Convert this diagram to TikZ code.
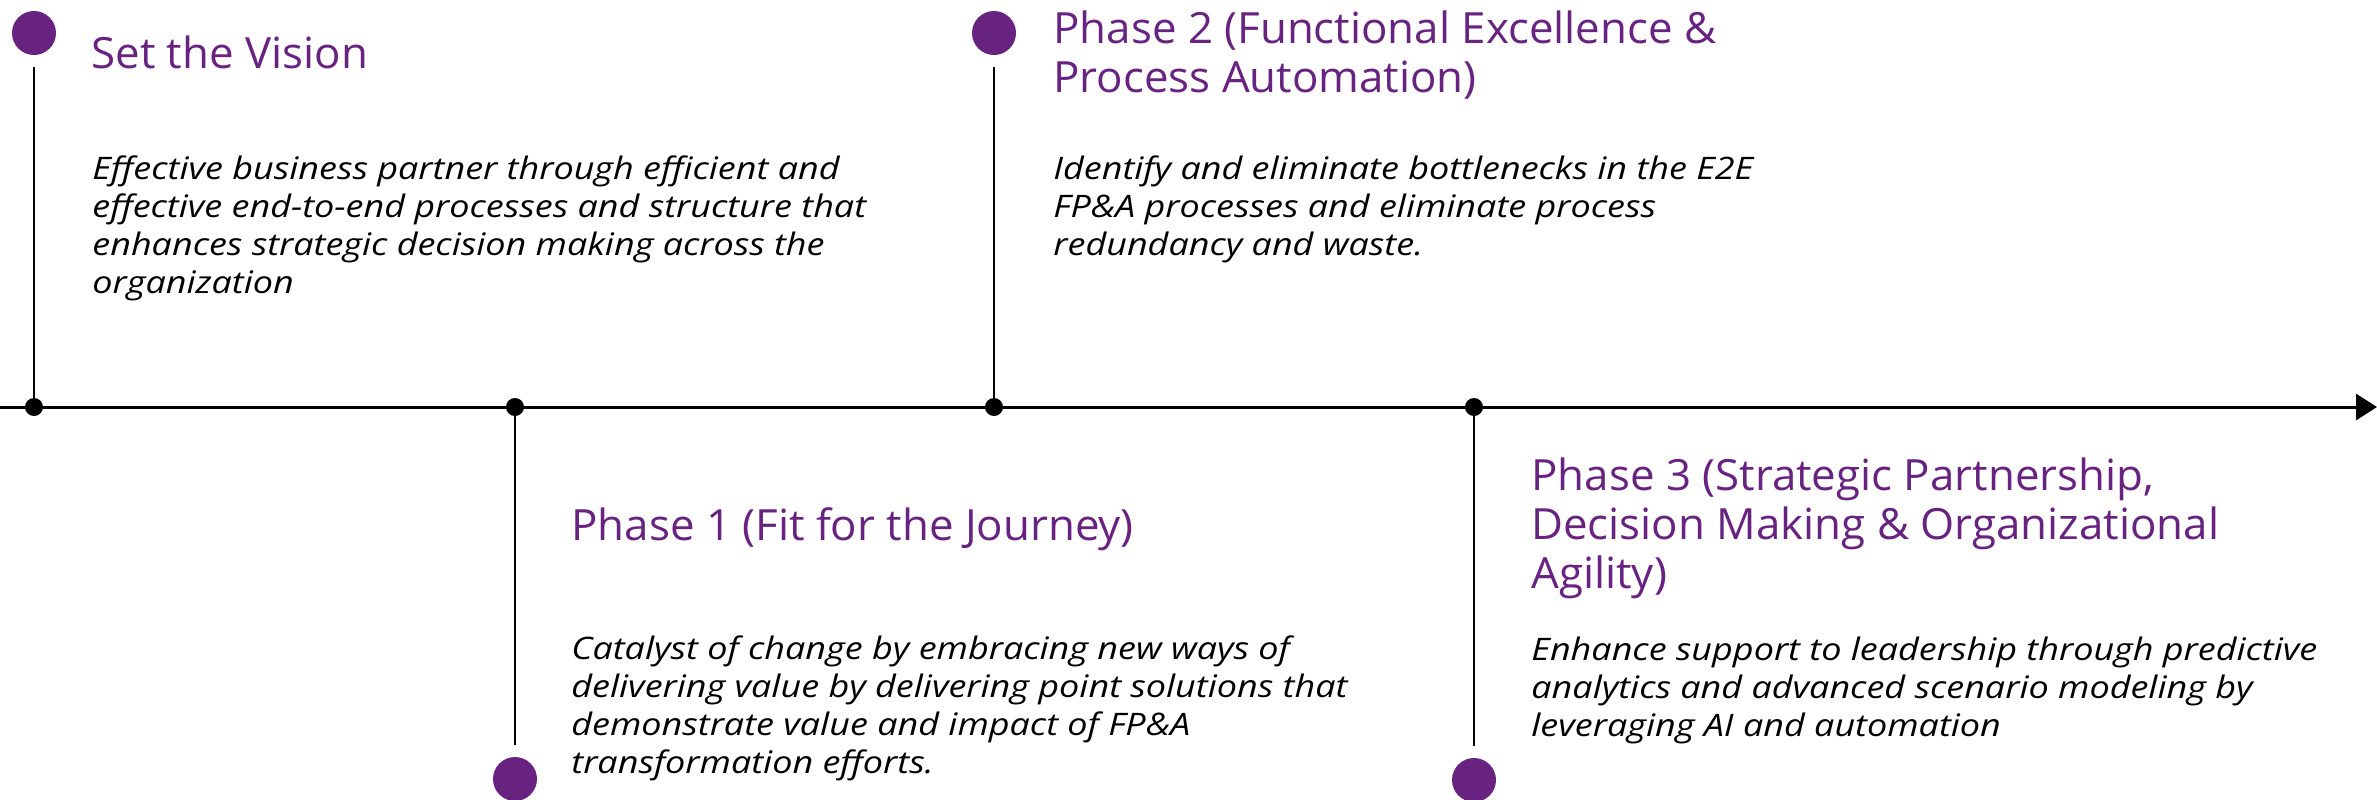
\documentclass[tikz,border=0pt]{standalone}
\usepackage{fontspec}
\setmainfont{Open Sans}
\newfontfamily\headfont[FakeStretch=1.02]{Open Sans}
\newfontfamily\descfont[FakeStretch=1.16]{Open Sans}
\usetikzlibrary{arrows.meta}
\definecolor{phasepurple}{RGB}{104,35,128}

\begin{document}
\begin{tikzpicture}[x=0.5pt,y=-0.5pt]
    \tikzstyle{milestone} = [circle, fill=phasepurple, inner sep=0pt,
        minimum size=22pt, outer sep=6pt]
    \tikzstyle{tick} = [circle, fill=black, inner sep=0pt, minimum size=9pt]
    \tikzstyle{stem} = [draw, line width=1.2pt]
    % base anchor sits on the last line of a text block
    \tikzstyle{title} = [anchor=base west, inner sep=0pt, align=left,
        text=phasepurple, font=\headfont\fontsize{21.5}{24.5}\selectfont]
    \tikzstyle{desc} = [anchor=base west, inner sep=0pt, align=left,
        font=\descfont\fontsize{15.5}{19}\selectfont\itshape]

    \useasboundingbox (0,0) rectangle (2377,799);

    % timeline
    \coordinate (start) at (0,407);
    \coordinate (stop) at (2377,407);
    \draw[line width=1.5pt, -{Triangle[length=10.5pt,width=13pt]}] (start) -- (stop);
    \node[tick] (t0) at (34,407) {};
    \node[tick] (t1) at (515,407) {};
    \node[tick] (t2) at (994,407) {};
    \node[tick] (t3) at (1474,407) {};

    % Set the Vision
    \node[milestone] (m0) at (34,33) {};
    \draw[stem] (t0) -- (m0);
    \node[title] (visname) at (91,68) {Set the Vision};
    \node[desc] (visbody) at (92,293) {Effective business partner through efficient and\\
        effective end-to-end processes and structure that\\
        enhances strategic decision making across the\\
        organization};

    % Phase 1
    \node[milestone] (m1) at (515,779) {};
    \draw[stem] (t1) -- (m1);
    \node[title] (p1name) at (571,540) {Phase 1 (Fit for the Journey)};
    \node[desc] (p1body) at (571,773) {Catalyst of change by embracing new ways of\\
        delivering value by delivering point solutions that\\
        demonstrate value and impact of FP\&A\\
        transformation efforts.};

    % Phase 2
    \node[milestone] (m2) at (994,33) {};
    \draw[stem] (t2) -- (m2);
    \node[title] (p2name) at (1053,92) {Phase 2 (Functional Excellence \&\\
        Process Automation)};
    \node[desc] (p2body) at (1053,255) {Identify and eliminate bottlenecks in the E2E\\
        FP\&A processes and eliminate process\\
        redundancy and waste.};

    % Phase 3
    \node[milestone] (m3) at (1474,780) {};
    \draw[stem] (t3) -- (m3);
    \node[title] (p3name) at (1531,588) {Phase 3 (Strategic Partnership,\\
        Decision Making \& Organizational\\
        Agility)};
    \node[desc] (p3body) at (1531,736) {Enhance support to leadership through predictive\\
        analytics and advanced scenario modeling by\\
        leveraging AI and automation};
\end{tikzpicture}
\end{document}
